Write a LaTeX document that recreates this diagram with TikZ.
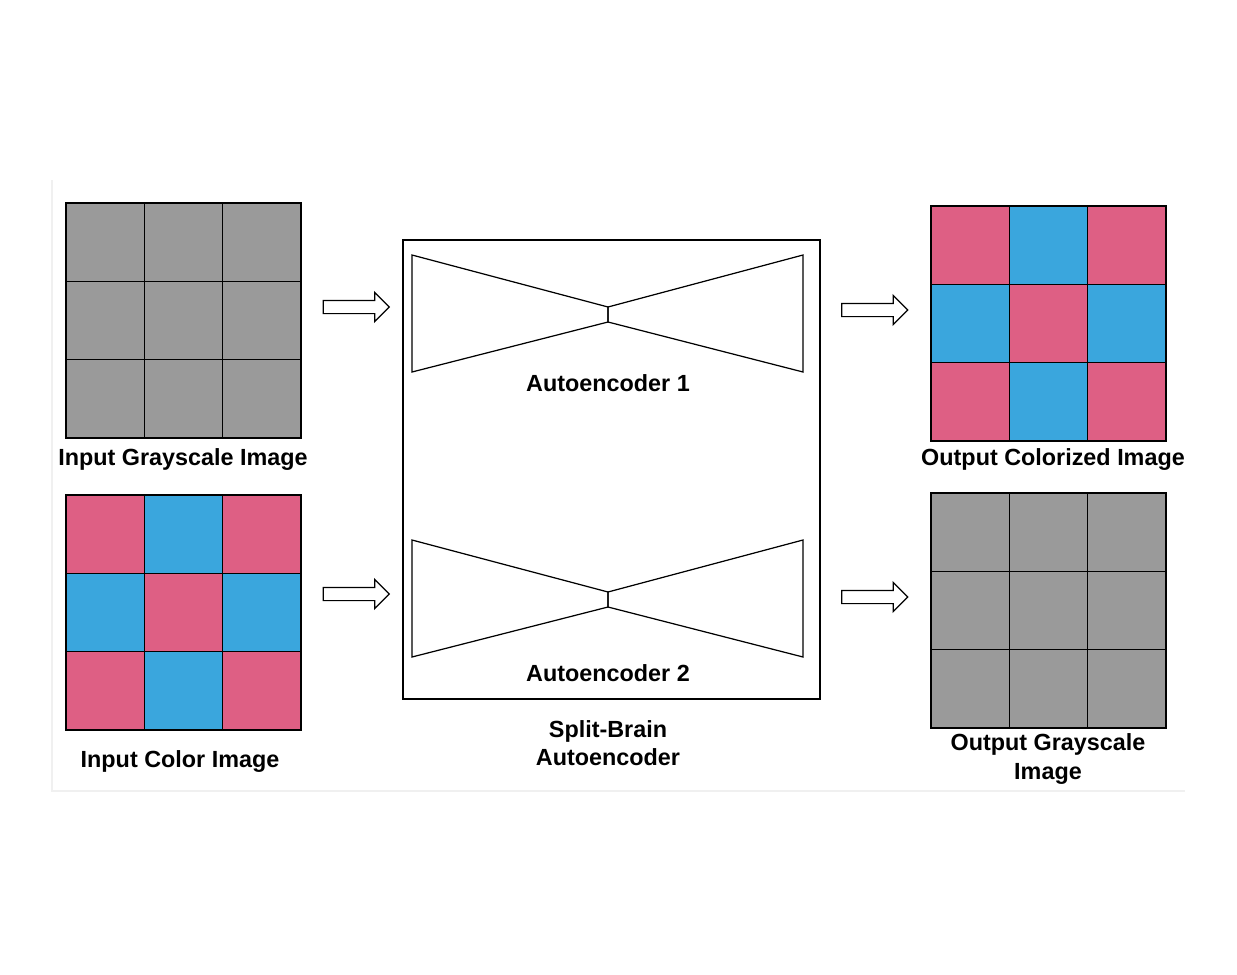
\documentclass[tikz,border=0pt]{standalone}
\usepackage{fontspec}
\setmainfont{Liberation Sans}
\usetikzlibrary{shapes.arrows,positioning}
\definecolor{cellgray}{HTML}{9A9A9A}
\definecolor{cellpink}{HTML}{DE5F84}
\definecolor{cellblue}{HTML}{3AA6DD}

\begin{document}
\begin{tikzpicture}[
    x=0.02cm,y=-0.02cm,
    cell/.style={draw,rectangle,minimum size=1.566cm,inner sep=0pt,line width=0.7pt},
    lbl/.style={font=\bfseries\fontsize{13.3}{16}\selectfont,align=center,inner sep=0pt},
    blockarrow/.style={draw,single arrow,minimum height=1.32cm,minimum width=0.56cm,
               inner sep=0.12cm,single arrow head extend=0.16cm,line width=0.7pt,fill=white},
    net/.style={draw,line width=0.7pt}
  ]
    \useasboundingbox (0,0) rectangle (1237,974);
    \draw[black!6,line width=1.2pt] (52,180) -- (52,791) -- (1185,791);

    %% grayscale grids
    \foreach \gx/\gy/\nm in {66/203/ig,931/493/og}
      \foreach \r in {0,1,2}
        \foreach \c in {0,1,2}
          \node[cell,fill=cellgray] (\nm-\r-\c) at (\gx+39.15+78.3*\c,\gy+39.15+78.3*\r) {};

    %% colour grids
    \foreach \gx/\gy/\nm in {66/495/ic,931/206/oc}
      \foreach \r in {0,1,2}
        \foreach \c in {0,1,2}{
          \pgfmathtruncatemacro\k{mod(\r+\c,2)}
          \ifnum\k=0 \def\cc{cellpink}\else\def\cc{cellblue}\fi
          \node[cell,fill=\cc] (\nm-\r-\c) at (\gx+39.15+78.3*\c,\gy+39.15+78.3*\r) {};
        }

    %% split-brain box
    \draw[net] (403,240) rectangle (820,699);
    \coordinate (ae1) at (608,314.5);
    \coordinate (ae2) at (608,599.5);
    \foreach \p in {ae1,ae2}{
      \draw[net] ([shift={(0,-7.5)}]\p) -- ([shift={(-196,-59.5)}]\p) -- ([shift={(-196,57.5)}]\p)
        -- ([shift={(0,7.5)}]\p) -- cycle;
      \draw[net] ([shift={(0,-7.5)}]\p) -- ([shift={(195,-59.5)}]\p) -- ([shift={(195,57.5)}]\p)
        -- ([shift={(0,7.5)}]\p) -- cycle;
    }

    %% arrows
    \node[blockarrow] (a1) at (353,307) {};
    \node[blockarrow] (a2) at (353,594) {};
    \node[blockarrow] (a3) at (871.5,310) {};
    \node[blockarrow] (a4) at (871.5,597) {};

    %% labels
    \node[lbl] (t1) at (183,460) {Input Grayscale Image};
    \node[lbl] (t2) at (180,761) {Input Color Image};
    \node[lbl] (t3) at (608,383) {Autoencoder 1};
    \node[lbl] (t4) at (608,673) {Autoencoder 2};
    \node[lbl] (t5) at (608,743) {Split-Brain\\Autoencoder};
    \node[lbl] (t6) at (1053,460) {Output Colorized Image};
    \node[lbl] (t7) at (1048,759) {Output Grayscale\\Image};
  \end{tikzpicture}
\end{document}
